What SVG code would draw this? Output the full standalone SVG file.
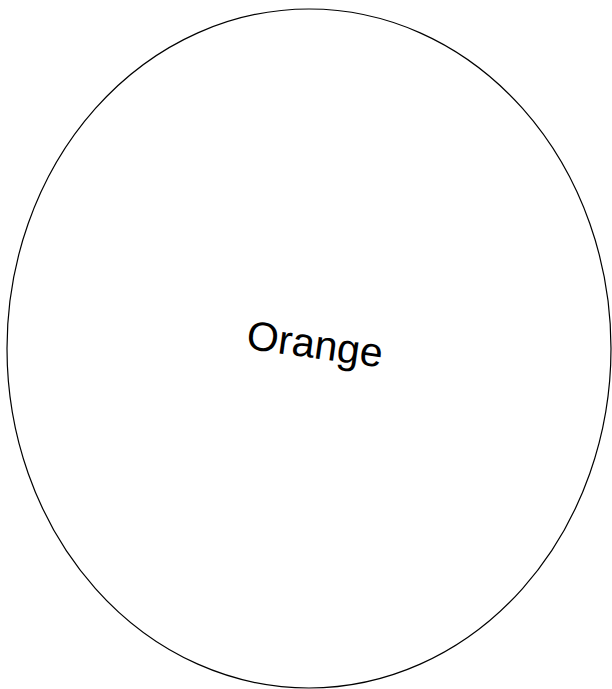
<svg xmlns="http://www.w3.org/2000/svg" width="612" height="689" viewBox="0 0 612 689">
<style>
.shape{fill:#ffffff;stroke:#000000;stroke-width:1.2}
.label{font-family:"Liberation Sans","DejaVu Sans",sans-serif;font-size:41px;fill:#000000}
</style>
<rect width="612" height="689" fill="#ffffff"/>
<g id="orange">
<ellipse class="shape" cx="309" cy="348.5" rx="302" ry="339.5"/>
<text class="label" x="0" y="0" text-anchor="middle" transform="translate(313,358) rotate(8)">Orange</text>
</g>
</svg>
